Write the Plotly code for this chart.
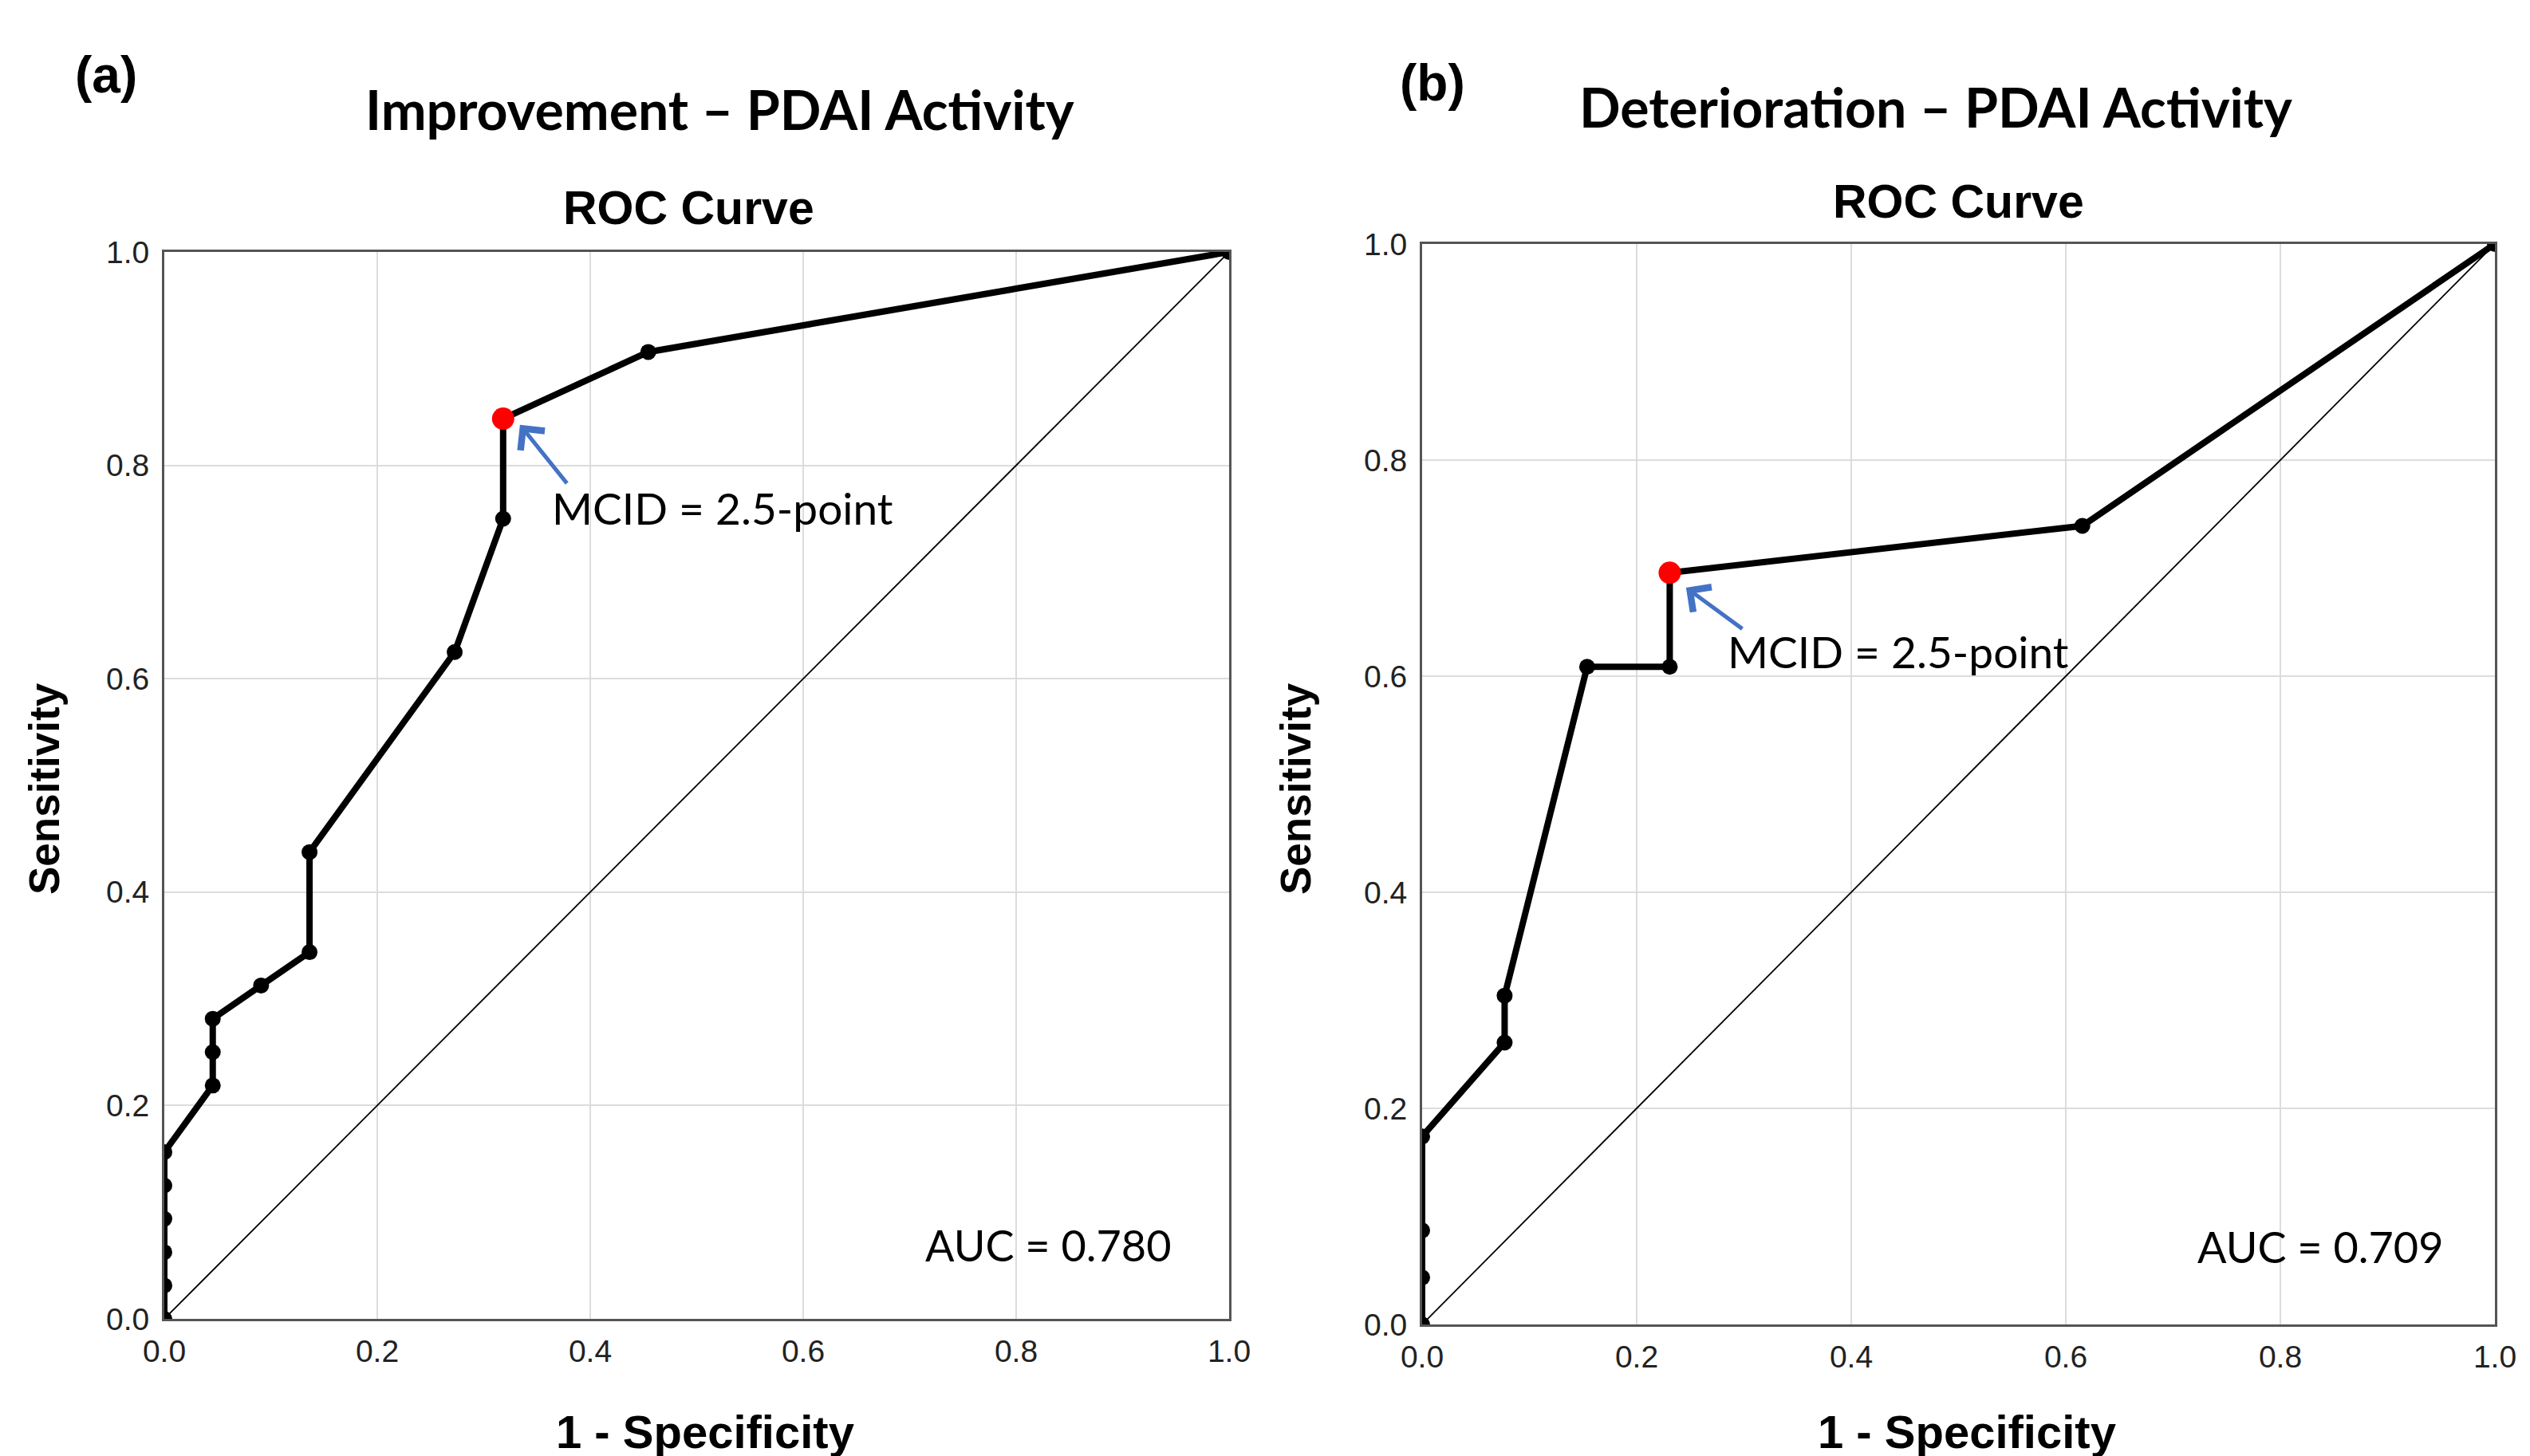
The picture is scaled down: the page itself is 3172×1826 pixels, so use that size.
import plotly.graph_objects as go

# ---- data ----
# Panel (a): Improvement – PDAI Activity
fpr_a = [0.0, 0.0, 0.0, 0.0, 0.0, 0.0, 0.0455, 0.0455, 0.0455, 0.0909, 0.1364, 0.1364,
         0.2727, 0.3182, 0.3182, 0.4545, 1.0]
tpr_a = [0.0, 0.03125, 0.0625, 0.09375, 0.125, 0.15625, 0.21875, 0.25, 0.28125, 0.3125,
         0.34375, 0.4375, 0.625, 0.75, 0.84375, 0.90625, 1.0]
mcid_a = (0.3182, 0.84375)
auc_a = "AUC = 0.780"

# Panel (b): Deterioration – PDAI Activity
fpr_b = [0.0, 0.0, 0.0, 0.0, 0.0769, 0.0769, 0.1538, 0.2308, 0.2308, 0.6154, 1.0]
tpr_b = [0.0, 0.0435, 0.087, 0.1739, 0.2609, 0.3043, 0.6087, 0.6087, 0.6957, 0.7391, 1.0]
mcid_b = (0.2308, 0.6957)
auc_b = "AUC = 0.709"

mcid_label = "MCID = 2.5-point"
panel_labels = ["(a)", "(b)"]
panel_titles = ["Improvement – PDAI Activity", "Deterioration – PDAI Activity"]
ticks = [0.0, 0.2, 0.4, 0.6, 0.8, 1.0]
tick_text = ["0.0", "0.2", "0.4", "0.6", "0.8", "1.0"]

W, H = 3172, 1826
OFFX, OFFY = 8, 4  # page body margin offset

def px(x):
    return (x - OFFX) / W

def py(y):
    return 1 - (y - OFFY) / H

fig = go.Figure()

panels = [
    dict(fpr=fpr_a, tpr=tpr_a, mcid=mcid_a, auc=auc_a, xa="x", ya="y",
         dom_x=(206, 1541), dom_y=(312, 1650),
         arrow_head=(0.334, 0.838), arrow_tail=(0.379, 0.782), text_pos=(0.3625, 0.76),
         auc_pos=(0.713, 0.069)),
    dict(fpr=fpr_b, tpr=tpr_b, mcid=mcid_b, auc=auc_b, xa="x2", ya="y2",
         dom_x=(1783, 3128), dom_y=(302, 1657),
         arrow_head=(0.246, 0.682), arrow_tail=(0.2996, 0.643), text_pos=(0.283, 0.623),
         auc_pos=(0.721, 0.0716)),
]

annotations = []
for i, p in enumerate(panels):
    # diagonal reference line
    fig.add_trace(go.Scatter(x=[0, 1], y=[0, 1], mode="lines",
                             line=dict(color="black", width=1.8),
                             xaxis=p["xa"], yaxis=p["ya"], showlegend=False, hoverinfo="skip"))
    # ROC curve
    fig.add_trace(go.Scatter(x=p["fpr"], y=p["tpr"], mode="lines+markers",
                             line=dict(color="black", width=8),
                             marker=dict(color="black", size=20),
                             xaxis=p["xa"], yaxis=p["ya"], showlegend=False))
    # MCID point
    fig.add_trace(go.Scatter(x=[p["mcid"][0]], y=[p["mcid"][1]], mode="markers",
                             marker=dict(color="#ff0000", size=28),
                             xaxis=p["xa"], yaxis=p["ya"], showlegend=False))
    # arrow
    annotations.append(dict(x=p["arrow_head"][0], y=p["arrow_head"][1],
                            ax=p["arrow_tail"][0], ay=p["arrow_tail"][1],
                            xref=p["xa"], yref=p["ya"], axref=p["xa"], ayref=p["ya"],
                            text="", showarrow=True, arrowhead=4, arrowsize=1.5,
                            arrowwidth=5, arrowcolor="#4472C4"))
    annotations.append(dict(x=p["text_pos"][0], y=p["text_pos"][1], xref=p["xa"], yref=p["ya"],
                            text=mcid_label, showarrow=False, xanchor="left", yanchor="middle",
                            font=dict(family="Lato", size=55, color="black")))
    annotations.append(dict(x=p["auc_pos"][0], y=p["auc_pos"][1], xref=p["xa"], yref=p["ya"],
                            text=p["auc"], showarrow=False, xanchor="left", yanchor="middle",
                            font=dict(family="Lato", size=54, color="black")))
    # ROC Curve title
    cx = (p["dom_x"][0] + p["dom_x"][1]) / 2
    annotations.append(dict(x=px(cx - 10 if i == 0 else cx), y=py(257 if i == 0 else 249),
                            xref="paper", yref="paper", text="<b>ROC Curve</b>", showarrow=False,
                            xanchor="center", yanchor="middle",
                            font=dict(family="Liberation Sans", size=59, color="black")))
    # x-axis title
    annotations.append(dict(x=px(cx + 10), y=OFFY / H, xref="paper", yref="paper",
                            text="<b>1 - Specificity</b>", showarrow=False,
                            xanchor="center", yanchor="bottom",
                            font=dict(family="Liberation Sans", size=58, color="black")))
    # y-axis title
    annotations.append(dict(x=px(55 if i == 0 else 1624), y=py(985), xref="paper", yref="paper",
                            text="<b>Sensitivity</b>", showarrow=False, textangle=-90,
                            xanchor="center", yanchor="middle",
                            font=dict(family="Liberation Sans", size=53, color="black")))

# panel labels and titles
annotations.append(dict(x=px(133), y=py(90), xref="paper", yref="paper", text="<b>(a)</b>",
                        showarrow=False, xanchor="center", yanchor="middle",
                        font=dict(family="Liberation Sans", size=64, color="black")))
annotations.append(dict(x=px(1796), y=py(100), xref="paper", yref="paper", text="<b>(b)</b>",
                        showarrow=False, xanchor="center", yanchor="middle",
                        font=dict(family="Liberation Sans", size=64, color="black")))
annotations.append(dict(x=px(902), y=py(133), xref="paper", yref="paper",
                        text="<b>" + panel_titles[0] + "</b>", showarrow=False,
                        xanchor="center", yanchor="middle",
                        font=dict(family="Lato", size=68, color="black")))
annotations.append(dict(x=px(2427), y=py(129), xref="paper", yref="paper",
                        text="<b>" + panel_titles[1] + "</b>", showarrow=False,
                        xanchor="center", yanchor="middle",
                        font=dict(family="Lato", size=68, color="black")))

axis_common = dict(range=[0, 1], tickvals=ticks, ticktext=tick_text, showgrid=True,
                   gridcolor="#dcdcdc", gridwidth=2, zeroline=False, showline=True,
                   linecolor="#555555", linewidth=3, mirror=True, ticks="",
                   tickfont=dict(family="Liberation Sans", size=39, color="#222222"),
                   fixedrange=True, automargin=False)

p0, p1 = panels
fig.update_layout(
    width=W, height=H, autosize=False,
    margin=dict(l=0, r=0, t=0, b=0, pad=0),
    paper_bgcolor="white", plot_bgcolor="white",
    xaxis=dict(domain=[px(p0["dom_x"][0]), px(p0["dom_x"][1])], anchor="y",
               ticklabelstandoff=4, **axis_common),
    yaxis=dict(domain=[py(p0["dom_y"][1]), py(p0["dom_y"][0])], anchor="x",
               ticklabelstandoff=8, **axis_common),
    xaxis2=dict(domain=[px(p1["dom_x"][0]), px(p1["dom_x"][1])], anchor="y2",
                ticklabelstandoff=4, **axis_common),
    yaxis2=dict(domain=[py(p1["dom_y"][1]), py(p1["dom_y"][0])], anchor="x2",
                ticklabelstandoff=8, **axis_common),
    annotations=annotations,
    showlegend=False,
)

fig.write_html("out.html")
